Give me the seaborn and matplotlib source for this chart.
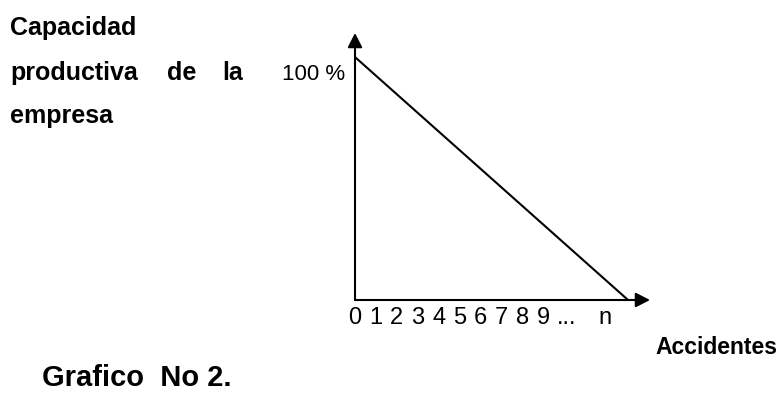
import matplotlib
matplotlib.use("Agg")
import matplotlib.pyplot as plt
import seaborn as sns
import pandas as pd

# Data
accident_ticks = [0, 1, 2, 3, 4, 5, 6, 7, 8, 9, 10.1, 11.96]
accident_labels = ["0", "1", "2", "3", "4", "5", "6", "7", "8", "9", "...", "n"]
line_accidents = [0, 13.06]
capacity_pct = [100, 0]

sns.set_theme(style="white")
plt.rcParams['font.family'] = ['Liberation Sans', 'DejaVu Sans']

W, H = 782, 394
fig = plt.figure(figsize=(W / 100, H / 100), dpi=100)
fig.patch.set_facecolor("white")

ax = fig.add_axes([355 / W, (H - 300) / H, 295 / W, 267 / H])
ax.set_facecolor("none")
df = pd.DataFrame({"Accidentes": line_accidents, "Capacidad": capacity_pct})
sns.lineplot(data=df, x="Accidentes", y="Capacidad", ax=ax, color="black", linewidth=1.5)
ax.set_xlim(0, 14.11)
ax.set_ylim(0, 109.9)
for s in ax.spines.values():
    s.set_visible(False)
ax.set_xlabel("")
ax.set_ylabel("")
ax.set_xticks(accident_ticks)
ax.set_xticklabels(accident_labels, fontsize=17)
ax.tick_params(axis='x', length=0, pad=5, colors="black")
ax.set_yticks([])

arrow = dict(arrowstyle='-|>,head_length=0.43,head_width=0.22', mutation_scale=20,
             lw=1.5, color='black', shrinkA=0, shrinkB=0)
ax.annotate('', xy=(1, 0), xytext=(0, 0), xycoords='axes fraction',
            textcoords='axes fraction', arrowprops=arrow, annotation_clip=False)
ax.annotate('', xy=(0, 1), xytext=(0, 0), xycoords='axes fraction',
            textcoords='axes fraction', arrowprops=arrow, annotation_clip=False)

ax.annotate("100 %", xy=(0, capacity_pct[0]), xytext=(-10, -23), textcoords='offset pixels',
            ha='right', va='baseline', fontsize=16, color='black', annotation_clip=False)


def ftext(x, y, s, **kw):
    fig.text(x / W, 1 - y / H, s, va='baseline', color='black', **kw)


ftext(10, 35, "Capacidad", fontsize=18, fontweight='bold')
ftext(10, 80, "productiva", fontsize=18, fontweight='bold')
ftext(167, 80, "de", fontsize=18, fontweight='bold')
ftext(222, 80, "la", fontsize=18, fontweight='bold')
ftext(10, 123, "empresa", fontsize=18, fontweight='bold')
ftext(655, 354, "Accidentes", fontsize=16.5, fontweight='bold')
ftext(42, 386, "Grafico  No 2.", fontsize=21, fontweight='bold')

fig.savefig("out.png", dpi=100, facecolor="white")
